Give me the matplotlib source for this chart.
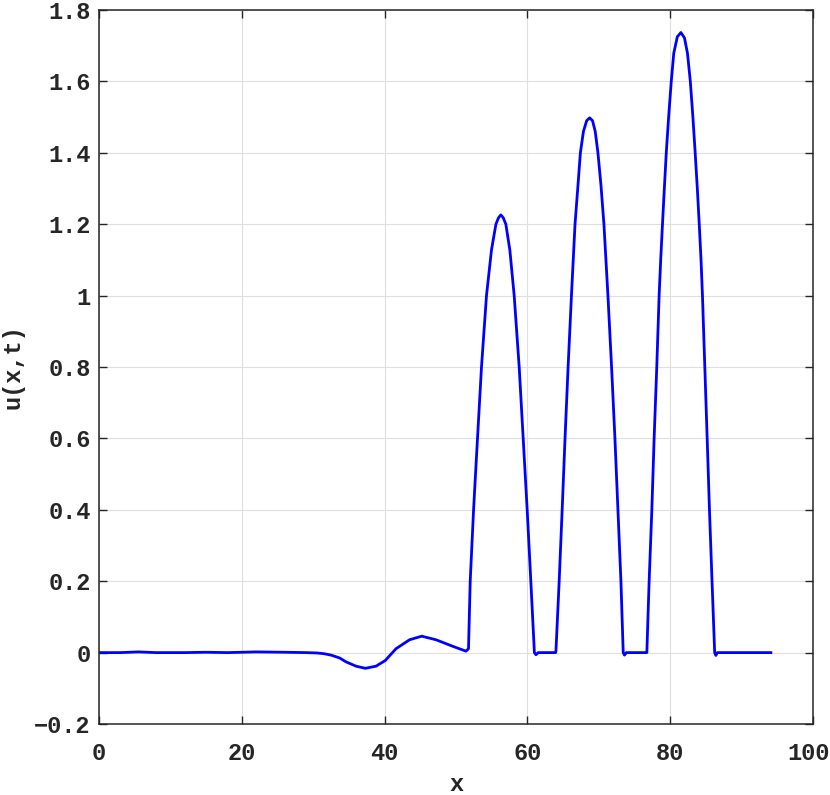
import matplotlib
matplotlib.use("Agg")
import matplotlib.pyplot as plt
from matplotlib.ticker import FuncFormatter
from matplotlib.transforms import ScaledTranslation

# DATA
x_flat = [0.0, 3.0, 5.5, 8.0, 12.0, 15.0, 18.0, 22.0, 26.0, 29.0, 30.5]
u_flat = [0.0, 0.0, 0.002, 0.0, 0.0, 0.001, 0.0, 0.002, 0.001, 0.0, -0.001]

x_dip = [31.5, 32.5, 33.7, 34.6, 36.0, 37.3, 38.8, 40.1, 41.6, 43.5, 45.2,
         47.2, 49.5, 51.4, 51.75]
u_dip = [-0.003, -0.007, -0.015, -0.026, -0.038, -0.044, -0.038, -0.022,
         0.011, 0.036, 0.046, 0.036, 0.018, 0.004, 0.011]

x_peak1 = [51.99, 52.46, 53.01, 53.57, 54.27, 54.97, 55.59, 55.95, 56.28,
           56.62, 56.98, 57.54, 58.15, 58.85, 59.41, 59.97, 60.48, 60.98,
           61.2, 61.5, 63.95]
u_peak1 = [0.2, 0.4, 0.6, 0.8, 1.0, 1.128, 1.2, 1.218, 1.226,
           1.218, 1.2, 1.128, 1.0, 0.8, 0.6, 0.4, 0.2, 0.0,
           -0.006, 0.0, 0.0]

x_peak2 = [64.0, 64.45, 64.87, 65.27, 65.7, 66.17, 66.67, 67.05, 67.42,
           67.85, 68.3, 68.72, 69.12, 69.5, 69.88, 70.3, 70.72, 71.28,
           71.79, 72.26, 72.68, 73.10, 73.42, 73.6, 73.85, 76.65]
u_peak2 = [0.005, 0.2, 0.4, 0.6, 0.8, 1.0, 1.2, 1.3, 1.4,
           1.46, 1.49, 1.498, 1.49, 1.46, 1.4, 1.31, 1.2, 1.0,
           0.8, 0.6, 0.4, 0.2, 0.0, -0.007, 0.0, 0.0]

x_peak3 = [76.73, 77.05, 77.43, 77.75, 78.12, 78.45, 78.67, 78.92, 79.18,
           79.45, 79.78, 80.15, 80.5, 81.0, 81.5, 82.0, 82.42, 82.82,
           83.18, 83.5, 83.8, 84.07, 84.32, 84.52, 84.85, 85.18, 85.5,
           85.86, 86.23, 86.4, 86.6, 94.1]
u_peak3 = [0.0, 0.2, 0.4, 0.6, 0.8, 1.0, 1.1, 1.2, 1.3,
           1.4, 1.5, 1.6, 1.679, 1.725, 1.737, 1.722, 1.679, 1.6,
           1.5, 1.4, 1.3, 1.2, 1.1, 1.0, 0.8, 0.6, 0.4,
           0.2, 0.0, -0.008, 0.0, 0.0]

x_all = x_flat + x_dip + x_peak1 + x_peak2 + x_peak3
u_all = u_flat + u_dip + u_peak1 + u_peak2 + u_peak3

x_ticks = [0, 20, 40, 60, 80, 100]
y_ticks = [-0.2, 0, 0.2, 0.4, 0.6, 0.8, 1, 1.2, 1.4, 1.6, 1.8]

# STYLE
plt.rcParams["font.family"] = ["Liberation Mono", "DejaVu Sans Mono"]
plt.rcParams["font.weight"] = "bold"
dark = "#262626"

# FIGURE
fig = plt.figure(figsize=(8.3, 7.95), dpi=100)
ax = fig.add_axes([0.1193, 0.0893, 0.8602, 0.8981])

ax.plot(x_all, u_all, color="#0000ff", linewidth=2.0, solid_joinstyle="round")

ax.set_xlim(0, 100)
ax.set_ylim(-0.2, 1.8)
ax.set_xticks(x_ticks)
ax.set_yticks(y_ticks)
ax.yaxis.set_major_formatter(FuncFormatter(lambda v, p: f"{v:g}".replace("-", "\u2212")))

ax.grid(True, color="#dfdfdf", linewidth=0.8)
ax.set_axisbelow(True)

for s in ax.spines.values():
    s.set_color(dark)
    s.set_linewidth(1.1)

ax.tick_params(direction="in", length=5.5, width=1.0, colors=dark,
               labelsize=17, top=True, right=True)
ax.tick_params(axis="x", pad=13)
ax.tick_params(axis="y", pad=6)

ax.set_xlabel("x", fontsize=17, fontweight="bold", color=dark, labelpad=6)
ax.set_ylabel("u(x,t)", fontsize=17, fontweight="bold", color=dark, labelpad=7)

# nudge the last x tick label so it stays inside the figure
fig.canvas.draw()
for lab in ax.get_xticklabels() + ax.get_yticklabels():
    lab.set_fontweight("bold")
last = ax.xaxis.get_major_ticks()[-1].label1
last.set_transform(last.get_transform() + ScaledTranslation(-0.04, 0, fig.dpi_scale_trans))

fig.savefig("out.png", dpi=100)
